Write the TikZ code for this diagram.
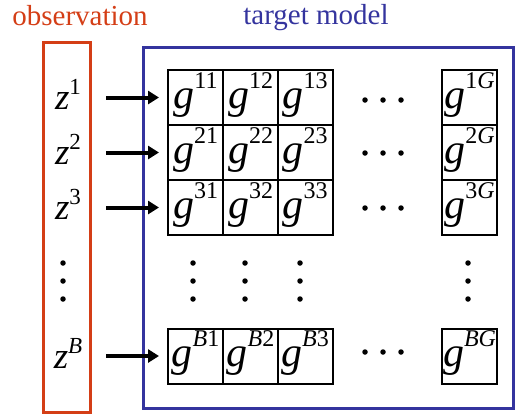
\documentclass[tikz,border=0pt]{standalone}
\usepackage{fontspec}
\setmainfont{Liberation Serif}
\usetikzlibrary{arrows.meta}

\definecolor{obsred}{RGB}{212,62,22}
\definecolor{modelblue}{RGB}{52,52,158}

% g with a two-part superscript: \gsup{row}{col}
\newcommand{\gsup}[2]{{\fontsize{42}{42}\selectfont\textit{g}}\raisebox{20pt}{\fontsize{24}{24}\selectfont #1#2}}
% z with a superscript
\newcommand{\zsup}[1]{{\fontsize{37}{37}\selectfont\textit{z}}\raisebox{15pt}{\fontsize{23}{23}\selectfont #1}}

\begin{document}
\begin{tikzpicture}[x=1pt,y=-1pt,
  cell/.style={draw,line width=2pt,minimum size=55pt,inner sep=0pt,
    text height=34pt,text depth=13pt},
  zlab/.style={minimum width=40pt,inner sep=0pt,text height=30pt,text depth=6pt},
  feed/.style={line width=4pt,-{Triangle[length=11pt,width=13pt]},
    shorten <=18pt,shorten >=8pt},
  dot/.style={circle,fill=black,inner sep=0pt,minimum size=5.5pt},
  title/.style={font=\fontsize{29}{29}\selectfont,anchor=base}]
\useasboundingbox (0,0) rectangle (529,416);

% titles
\node[title,text=obsred] (tobs) at (80,25) {observation};
\node[title,text=modelblue] (tmod) at (316,24) {target model};

% containers
\node[draw=obsred,line width=3pt,minimum width=47pt,minimum height=370pt,inner sep=0pt]
  (obsbox) at (66.5,227) {};
\node[draw=modelblue,line width=3pt,minimum width=370pt,minimum height=361pt,inner sep=0pt]
  (modbox) at (328,227.5) {};

% observations
\node[zlab] (z1) at (68,97.5) {\zsup{1}};
\node[zlab] (z2) at (68,152.5) {\zsup{2}};
\node[zlab] (z3) at (68,207.5) {\zsup{3}};
\node[zlab] (zB) at (68,356) {\zsup{\textit{B}}};

% grid of model cells
\node[cell] (c11) at (195.5,97.5) {\gsup{1}{1}};
\node[cell] (c12) at (250.5,97.5) {\gsup{1}{2}};
\node[cell] (c13) at (305,97.5) {\gsup{1}{3}};
\node[cell] (c1G) at (469.5,97.5) {\gsup{1}{\textit{G}}};

\node[cell] (c21) at (195.5,152.5) {\gsup{2}{1}};
\node[cell] (c22) at (250.5,152.5) {\gsup{2}{2}};
\node[cell] (c23) at (305,152.5) {\gsup{2}{3}};
\node[cell] (c2G) at (469.5,152.5) {\gsup{2}{\textit{G}}};

\node[cell] (c31) at (195.5,207.5) {\gsup{3}{1}};
\node[cell] (c32) at (250.5,207.5) {\gsup{3}{2}};
\node[cell] (c33) at (305,207.5) {\gsup{3}{3}};
\node[cell] (c3G) at (469.5,207.5) {\gsup{3}{\textit{G}}};

\node[cell] (cB1) at (195.5,356) {\gsup{\textit{B}}{1}};
\node[cell] (cB2) at (250.5,356) {\gsup{\textit{B}}{2}};
\node[cell] (cB3) at (305,356) {\gsup{\textit{B}}{3}};
\node[cell] (cBG) at (469.5,356) {\gsup{\textit{B}}{\textit{G}}};

% arrows from observations into the rows
\draw[feed] (z1.east) -- (c11.west);
\draw[feed] (z2.east) -- (c21.west);
\draw[feed] (z3.east) -- (c31.west);
\draw[feed] (zB.east) -- (cB1.west);

% horizontal ellipses
\foreach \r/\y in {1/100,2/153,3/208,B/352}{
  \foreach \k/\x in {a/365,b/383,c/401}{
    \node[dot] (h\r\k) at (\x,\y) {};
  }
}
% vertical ellipses
\foreach \c/\x in {z/63,1/193,2/245,3/300,G/468}{
  \foreach \k/\y in {a/263,b/281,c/299}{
    \node[dot] (v\c\k) at (\x,\y) {};
  }
}
\end{tikzpicture}
\end{document}
